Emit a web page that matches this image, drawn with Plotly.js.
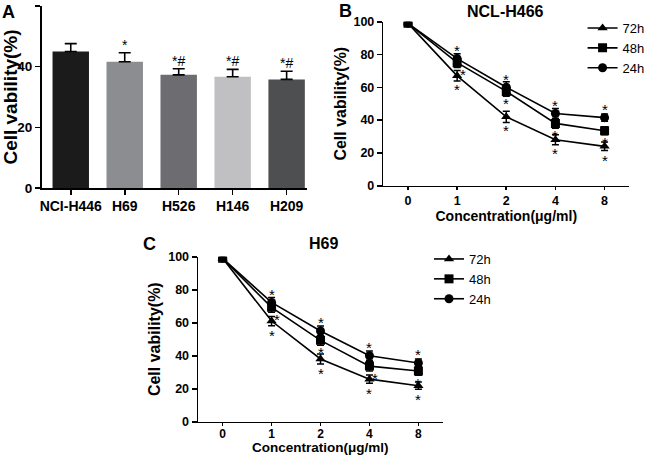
<!DOCTYPE html>
<html>
<head>
<meta charset="utf-8">
<script src="https://cdn.plot.ly/plotly-3.0.1.min.js"></script>
<style>html,body{margin:0;padding:0;background:#fff;}#chart{width:650px;height:456px;}</style>
</head>
<body>
<div id="chart"></div>
<script>
// ---------- Data ----------
// Panel A
const cellLines = ["NCI-H446", "H69", "H526", "H146", "H209"];
const barValues = [45.0, 41.6, 37.3, 36.7, 35.8];
const barErrors = [2.6, 3.0, 2.0, 2.4, 2.7];
const barMarks  = ["", "*", "*#", "*#", "*#"];
const barColors = ["#1b1b1b", "#8b8d91", "#6d6c70", "#c0c0c2", "#4e4f51"];

// Panels B and C
const concentrations = ["0", "1", "2", "4", "8"];
const seriesNames = ["72h", "48h", "24h"];
const seriesSymbols = ["triangle-up", "square", "circle"];

const h466_72h = [99, 67, 42, 28, 24];
const h466_48h = [99, 75, 57.5, 38, 33.5];
const h466_24h = [99, 77.5, 60, 44, 41.5];
const h466_err72 = [0.5, 3.2, 3.4, 3.0, 2.6];
const h466_err48 = [0.5, 3.0, 3.0, 3.0, 2.5];
const h466_err24 = [0.5, 3.0, 3.4, 3.0, 2.2];

const h69_72h = [99, 61, 38, 25.8, 21.8];
const h69_48h = [99, 69.3, 49.3, 33.7, 30.7];
const h69_24h = [99, 72.3, 55, 40, 35.6];
const h69_err72 = [0.5, 2.8, 3.0, 2.5, 2.2];
const h69_err48 = [0.5, 3.0, 3.0, 3.0, 2.6];
const h69_err24 = [0.5, 3.0, 3.0, 2.8, 2.4];

const xTitle = "Concentration(μg/ml)";
const yTitle = "Cell vability(%)";

// ---------- Style ----------
const FONT = "'Liberation Sans', Arial, Helvetica, sans-serif";
const boldFont = (s) => ({family: FONT, size: s, color: "#000", weight: "bold"});
const W = 650, H = 456;
const px = (x) => x / W;
const py = (y) => 1 - y / H;

const traces = [];

// Panel A bars
traces.push({
  type: "bar", x: cellLines, y: barValues,
  xaxis: "x", yaxis: "y", width: 0.675,
  marker: {color: barColors, line: {width: 0}},
  error_y: {type: "data", symmetric: false, array: barErrors,
            arrayminus: barErrors.map(() => 0), color: "#000", thickness: 1.6, width: 6},
  showlegend: false, hoverinfo: "skip"
});

function addLines(data, errs, xa, ya, legendName) {
  data.forEach((ys, i) => {
    traces.push({
      type: "scatter", mode: "lines+markers", name: seriesNames[i],
      x: concentrations, y: ys, xaxis: xa, yaxis: ya, legend: legendName,
      line: {color: "#000", width: 1.6},
      marker: {symbol: seriesSymbols[i], size: 9, color: "#000"},
      error_y: {type: "data", array: errs[i], color: "#000", thickness: 1.5, width: 3.5},
      hoverinfo: "skip"
    });
  });
}
addLines([h466_72h, h466_48h, h466_24h], [h466_err72, h466_err48, h466_err24], "x2", "y2", "legend");
addLines([h69_72h, h69_48h, h69_24h], [h69_err72, h69_err48, h69_err24], "x3", "y3", "legend2");

// ---------- Annotations ----------
const annotations = [];
const starFont = {family: FONT, size: 15, color: "#000"};

// bar significance marks
cellLines.forEach((c, i) => {
  if (!barMarks[i]) return;
  annotations.push({xref: "x", yref: "y", x: i, y: barValues[i] + barErrors[i],
    text: barMarks[i], showarrow: false, yanchor: "bottom", yshift: -2,
    font: {family: FONT, size: 14, color: "#000"}});
});

// line-chart asterisks: 24h above, 72h below, 48h below (some shifted right)
function lineStars(s72, s48, s24, xa, ya, dx48) {
  for (let k = 1; k < concentrations.length; k++) {
    annotations.push({xref: xa, yref: ya, x: k, y: s24[k], text: "*", showarrow: false,
      yanchor: "middle", yshift: 8, font: starFont});
    annotations.push({xref: xa, yref: ya, x: k, y: s72[k], text: "*", showarrow: false,
      yanchor: "middle", yshift: -14, font: starFont});
    annotations.push({xref: xa, yref: ya, x: k, y: s48[k], text: "*", showarrow: false,
      yanchor: "middle", yshift: -12, xshift: dx48[k], font: starFont});
  }
}
lineStars(h466_72h, h466_48h, h466_24h, "x2", "y2", [0, 6, 0, 0, 0]);
lineStars(h69_72h, h69_48h, h69_24h, "x3", "y3", [0, 5, 0, 6, 0]);

// panel letters, titles, panel C x-axis title
annotations.push({xref: "paper", yref: "paper", x: px(0), y: py(0), xanchor: "left", yanchor: "top",
  text: "A", showarrow: false, font: boldFont(18)});
annotations.push({xref: "paper", yref: "paper", x: px(340), y: py(-1), xanchor: "left", yanchor: "top",
  text: "B", showarrow: false, font: boldFont(18)});
annotations.push({xref: "paper", yref: "paper", x: px(142), y: py(232), xanchor: "left", yanchor: "top",
  text: "C", showarrow: false, font: boldFont(18)});
annotations.push({xref: "paper", yref: "paper", x: px(510), y: py(11), xanchor: "center", yanchor: "middle",
  text: "NCL-H466", showarrow: false, font: boldFont(16)});
annotations.push({xref: "paper", yref: "paper", x: px(327), y: py(243), xanchor: "center", yanchor: "middle",
  text: "H69", showarrow: false, font: boldFont(16)});
annotations.push({xref: "x3 domain", yref: "paper", x: 0.5, y: py(447.5), xanchor: "center", yanchor: "middle",
  text: xTitle, showarrow: false, font: boldFont(13.5)});

// ---------- Axes ----------
const baseAxis = {
  showline: true, linecolor: "#000", linewidth: 1.6, showgrid: false, zeroline: false,
  ticks: "outside", ticklen: 5, tickwidth: 1.6, tickcolor: "#000",
  tickfont: boldFont(13), fixedrange: true
};
const xAxisBase = Object.assign({}, baseAxis, {ticklen: 3, tickfont: boldFont(12.5)});

const layout = {
  width: W, height: H,
  margin: {l: 0, r: 0, t: 0, b: 0},
  paper_bgcolor: "#fff", plot_bgcolor: "#fff",
  showlegend: true,
  xaxis: Object.assign({}, baseAxis, {domain: [px(42), px(310)], range: [-0.54, 4.38],
    type: "category", anchor: "y", tickfont: boldFont(14)}),
  yaxis: Object.assign({}, baseAxis, {domain: [py(188), py(6)], range: [0, 60],
    tickvals: [0, 20, 40, 60], anchor: "x", tickfont: boldFont(13.5),
    title: {text: yTitle, font: boldFont(19), standoff: 2}}),
  xaxis2: Object.assign({}, xAxisBase, {domain: [px(387), px(635)], range: [-0.5, 4.5],
    type: "category", anchor: "y2",
    title: {text: xTitle, font: boldFont(14), standoff: 0}}),
  yaxis2: Object.assign({}, baseAxis, {domain: [py(185.7), py(21.7)], range: [0, 100],
    tickvals: [0, 20, 40, 60, 80, 100], anchor: "x2", tickfont: boldFont(12.5),
    title: {text: yTitle, font: boldFont(16), standoff: 3}}),
  xaxis3: Object.assign({}, xAxisBase, {domain: [px(200), px(447)], range: [-0.5, 4.5],
    type: "category", anchor: "y3", ticklen: 3, tickfont: boldFont(12), ticklabelstandoff: -3}),
  yaxis3: Object.assign({}, baseAxis, {domain: [py(421.7), py(256.7)], range: [0, 100],
    tickvals: [0, 20, 40, 60, 80, 100], anchor: "x3", tickfont: boldFont(12.5),
    title: {text: yTitle, font: boldFont(16), standoff: 3}}),
  legend: {x: px(588), y: py(13), xanchor: "left", yanchor: "top", bgcolor: "rgba(0,0,0,0)",
    font: {family: FONT, size: 13, color: "#000"}, itemwidth: 30, tracegroupgap: 0},
  legend2: {x: px(433), y: py(244), xanchor: "left", yanchor: "top", bgcolor: "rgba(0,0,0,0)",
    font: {family: FONT, size: 13, color: "#000"}, itemwidth: 30, tracegroupgap: 0},
  annotations: annotations
};

Plotly.newPlot("chart", traces, layout, {staticPlot: true, displayModeBar: false});
</script>
</body>
</html>
